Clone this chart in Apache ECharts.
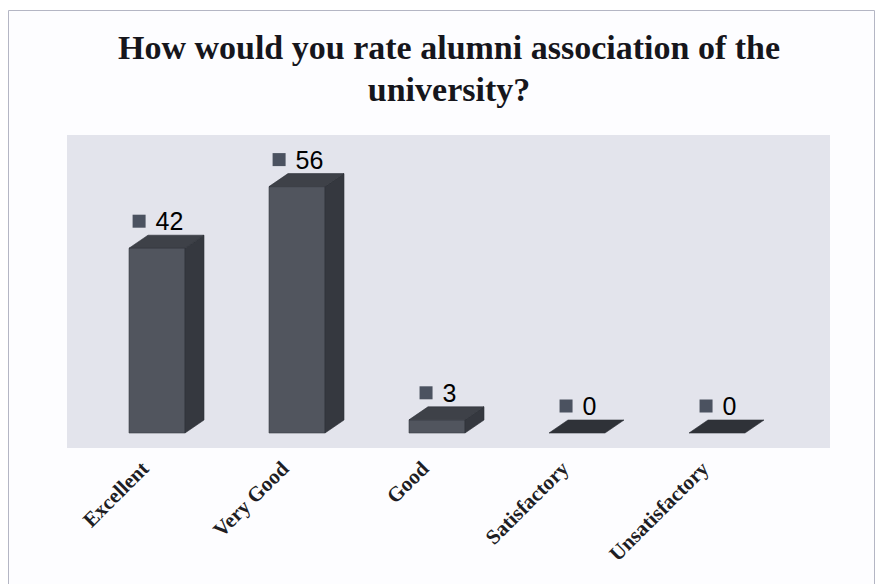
<!DOCTYPE html>
<html>
<head>
<meta charset="utf-8">
<script src="https://cdn.jsdelivr.net/npm/echarts@6/dist/echarts.min.js"></script>
<style>html,body{margin:0;padding:0;background:#fff;}#c{width:875px;height:584px;}</style>
</head>
<body>
<div id="c"></div>
<script>
const titleText = 'How would you rate alumni association of the\nuniversity?';
const categories = ['Excellent', 'Very Good', 'Good', 'Satisfactory', 'Unsatisfactory'];
const values = [42, 56, 3, 0, 0];

const chart = echarts.init(document.getElementById('c'), null, {renderer: 'svg'});
const DX = 19, DY = 13, OFF = 12;

function renderItem(params, api) {
  const idx = api.value(0), val = api.value(1);
  const base = api.coord([idx, 0]);
  const top = api.coord([idx, val]);
  const band = api.size([1, 0])[0];
  const w = band * 0.4;
  const x0 = base[0] + OFF - w / 2;
  const x1 = x0 + w;
  const yb = base[1], yt = top[1];
  const children = [];
  if (yb - yt > 0.5) {
    children.push({type: 'polygon', shape: {points: [[x0, yt], [x1, yt], [x1, yb], [x0, yb]]},
      style: {fill: '#51555e', stroke: '#3a3d44', lineWidth: 0.6}});
    children.push({type: 'polygon', shape: {points: [[x1, yt], [x1 + DX, yt - DY], [x1 + DX, yb - DY], [x1, yb]]},
      style: {fill: '#35383f', stroke: '#2c2f35', lineWidth: 0.6}});
  }
  children.push({type: 'polygon', shape: {points: [[x0, yt], [x1, yt], [x1 + DX, yt - DY], [x0 + DX, yt - DY]]},
    style: {fill: yb - yt > 0.5 ? '#3e4148' : '#2f3238', stroke: '#2c2f35', lineWidth: 0.6}});
  children.push({type: 'text', x: x0 + w / 2 + 1, y: yt - DY - 1,
    style: {text: '{sq|}{v|' + val + '}', align: 'center', verticalAlign: 'bottom',
      rich: {
        sq: {width: 13, height: 13, backgroundColor: '#4b5260', verticalAlign: 'middle'},
        v: {fontSize: 25, fontFamily: 'Liberation Sans, Arial, sans-serif', color: '#333', padding: [0, 0, 0, 10], lineHeight: 26, verticalAlign: 'middle'}
      }}});
  return {type: 'group', children: children};
}

chart.setOption({
  backgroundColor: '#ffffff',
  animation: false,
  graphic: [
    {type: 'rect', left: 8, top: 10, z: -10, shape: {width: 866, height: 580}, style: {fill: '#fdfdff', stroke: '#b4b6c4', lineWidth: 1}},
    {type: 'rect', left: 67, top: 135, z: -5, shape: {width: 763, height: 313}, style: {fill: '#e3e4ec'}},
    {type: 'text', x: 449, y: 26, z: 10,
      style: {text: titleText, align: 'center', verticalAlign: 'top',
        fontFamily: 'Liberation Serif, Times New Roman, serif', fontWeight: 'bold', fontSize: 34, lineHeight: 42, fill: '#16161c'}}
  ],
  grid: {left: 75, right: 100, top: 125, bottom: 151},
  xAxis: {
    type: 'category', data: categories,
    axisLine: {show: false}, axisTick: {show: false}, splitLine: {show: false},
    axisLabel: {rotate: 45, margin: 32, interval: 0, fontFamily: 'Liberation Serif, Times New Roman, serif', fontWeight: 'bold', fontSize: 21, color: '#1e1e24'}
  },
  yAxis: {type: 'value', min: 0, max: 70, show: false},
  series: [{
    type: 'custom', renderItem: renderItem,
    encode: {x: 0, y: 1},
    data: values.map((v, i) => [i, v])
  }]
});
</script>
</body>
</html>
